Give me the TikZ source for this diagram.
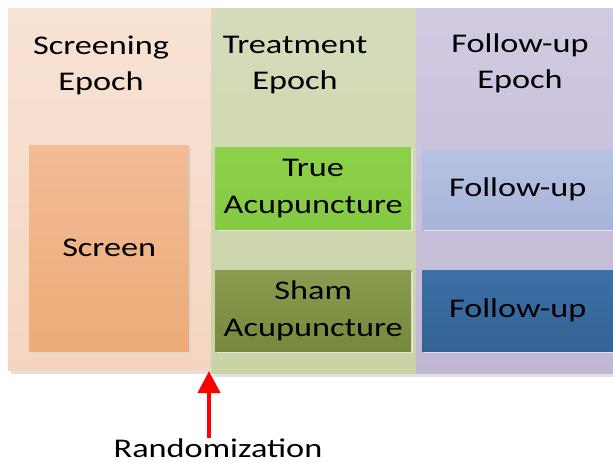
\documentclass[tikz,border=0pt]{standalone}
\usepackage{fontspec}
\setmainfont{Carlito}[FakeStretch=1.27]
\usetikzlibrary{arrows.meta}

\definecolor{scrbg}{HTML}{F8E3D5}
\definecolor{scrbgb}{HTML}{F5D5C1}
\definecolor{scrbox}{HTML}{F2BC95}
\definecolor{scrboxb}{HTML}{EDAB78}
\definecolor{trtbg}{HTML}{D4DCBB}
\definecolor{trtbgb}{HTML}{C9D3A6}
\definecolor{truebox}{HTML}{8DD04A}
\definecolor{truebottom}{HTML}{86C943}
\definecolor{shambox}{HTML}{8A9C4F}
\definecolor{shamboxb}{HTML}{76883D}
\definecolor{fupbg}{HTML}{D1CAE1}
\definecolor{fupbgb}{HTML}{C1B7D4}
\definecolor{fupone}{HTML}{B6C3E2}
\definecolor{fuponeb}{HTML}{A7B4DA}
\definecolor{fuptwo}{HTML}{3B71A6}
\definecolor{fuptwob}{HTML}{346293}

\tikzset{
  epoch/.style={rectangle,inner sep=0pt,anchor=north west},
  armbox/.style={rectangle,inner sep=0pt,anchor=north west,align=center,
    font=\fontsize{27}{37}\selectfont},
  heading/.style={align=center,inner sep=0pt,font=\fontsize{27}{36}\selectfont},
}

\begin{document}
\begin{tikzpicture}[x=1pt,y=-1pt]
\path[use as bounding box] (0,0) rectangle (613,463);
% shadows of the epochs
\fill[black!12] (11,11) rectangle (214,374);
\fill[black!12] (214,11) rectangle (419,377);
\fill[black!12] (419,11) rectangle (613,377);
% epochs
\node[epoch,top color=scrbg,bottom color=scrbgb,minimum width=203pt,minimum height=362pt] (scrEpoch) at (8,8) {};
\node[epoch,top color=trtbg,bottom color=trtbgb,minimum width=205pt,minimum height=365pt] (trtEpoch) at (211,8) {};
\node[epoch,top color=fupbg,bottom color=fupbgb,minimum width=197pt,minimum height=365pt] (fupEpoch) at (416,8) {};
\node[heading] (scrHead) at (101,65) {Screening\\Epoch};
\node[heading] (trtHead) at (295,65) {Treatment\\Epoch};
\node[heading] (fupHead) at (520,63) {Follow-up\\Epoch};
% box shadows
\fill[black!15] (31,147) rectangle (191,353);
\fill[black!10] (217,149) rectangle (413,231);
\fill[black!10] (217,272) rectangle (413,353);
\fill[black!10] (424,151) rectangle (613,231);
\fill[black!10] (424,272) rectangle (613,353);
% arms
\node[armbox,top color=scrbox,bottom color=scrboxb,minimum width=160pt,minimum height=206pt] (screen) at (29,145) {Screen};
\node[armbox,top color=truebox,bottom color=truebottom,minimum width=196pt,minimum height=82pt] (trueAcu) at (215,147) {True\\Acupuncture};
\node[armbox,top color=shambox,bottom color=shamboxb,minimum width=196pt,minimum height=81pt] (shamAcu) at (215,270) {Sham\\Acupuncture};
\node[armbox,top color=fupone,bottom color=fuponeb,minimum width=191pt,minimum height=80pt] (fupTrue) at (422,149) {Follow-up};
\node[armbox,top color=fuptwo,bottom color=fuptwob,minimum width=191pt,minimum height=81pt] (fupSham) at (422,270) {Follow-up};
% randomization
\coordinate (randPoint) at (209,371);
\node[heading] (rand) at (218,448) {Randomization};
\draw[red,line width=4pt,-{Triangle[length=22pt,width=22pt]}] (rand.north -| randPoint) -- (randPoint);
\end{tikzpicture}
\end{document}
